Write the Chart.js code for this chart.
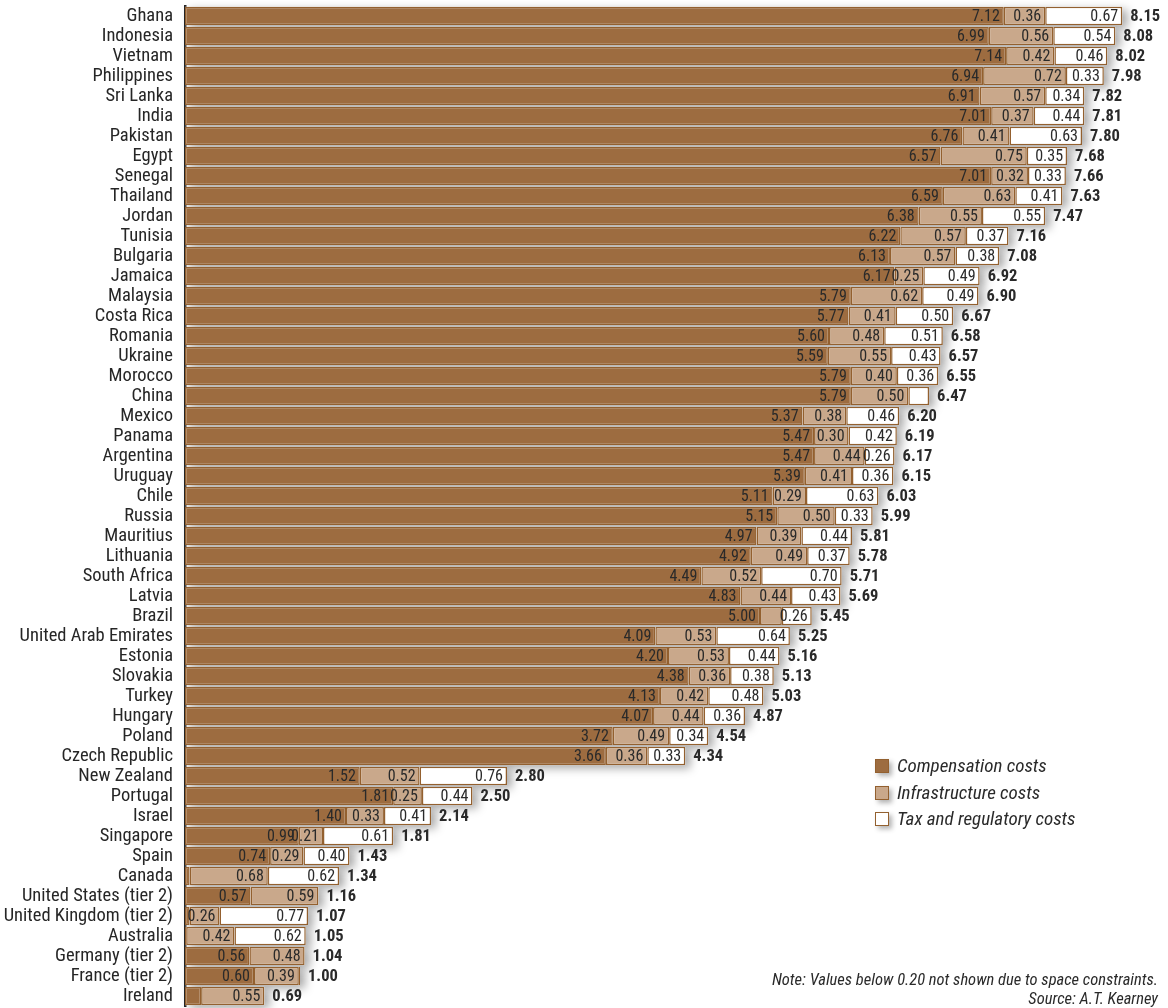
<!DOCTYPE html>
<html>
<head>
<meta charset="utf-8">
<script src="https://cdn.jsdelivr.net/npm/chart.js@4.4.1/dist/chart.umd.min.js"></script>
<style>
  html, body { margin: 0; padding: 0; background: #fff; }
  #wrap { position: relative; width: 1168px; height: 1008px; overflow: hidden; }
  #chart { position: absolute; left: 0; top: 0; }
  #legend { position: absolute; left: 875px; top: 759px; }
  .item { position: relative; height: 26.7px; }
  .sw { position: absolute; left: 0; top: 0; width: 12px; height: 12px; border: 1.6px solid #93602f; box-shadow: 3px 3px 5px rgba(0,0,0,0.3); }
  .lt { position: absolute; left: 22px; top: -5px; white-space: nowrap; font: italic 19px 'Roboto Condensed', sans-serif; color: #2a2a2a; }
  .note { position: absolute; right: 10px; white-space: nowrap; font: italic 16.5px 'Roboto Condensed', sans-serif; color: #2a2a2a; }
</style>
</head>
<body>
<div id="wrap">
  <canvas id="chart" width="1168" height="1008"></canvas>
  <div id="legend"></div>
  <div class="note" style="top:970px;">Note: Values below 0.20 not shown due to space constraints.</div>
  <div class="note" style="top:989px;">Source: A.T. Kearney</div>
</div>
<script>
const categories = ["Ghana","Indonesia","Vietnam","Philippines","Sri Lanka","India","Pakistan","Egypt","Senegal","Thailand",
  "Jordan","Tunisia","Bulgaria","Jamaica","Malaysia","Costa Rica","Romania","Ukraine","Morocco","China",
  "Mexico","Panama","Argentina","Uruguay","Chile","Russia","Mauritius","Lithuania","South Africa","Latvia",
  "Brazil","United Arab Emirates","Estonia","Slovakia","Turkey","Hungary","Poland","Czech Republic","New Zealand","Portugal",
  "Israel","Singapore","Spain","Canada","United States (tier 2)","United Kingdom (tier 2)","Australia","Germany (tier 2)","France (tier 2)","Ireland"];

const compensation = [7.12,6.99,7.14,6.94,6.91,7.01,6.76,6.57,7.01,6.59,
  6.38,6.22,6.13,6.17,5.79,5.77,5.60,5.59,5.79,5.79,
  5.37,5.47,5.47,5.39,5.11,5.15,4.97,4.92,4.49,4.83,
  5.00,4.09,4.20,4.38,4.13,4.07,3.72,3.66,1.52,1.81,
  1.40,0.99,0.74,0.04,0.57,0.04,0.01,0.56,0.60,0.14];

const infrastructure = [0.36,0.56,0.42,0.72,0.57,0.37,0.41,0.75,0.32,0.63,
  0.55,0.57,0.57,0.25,0.62,0.41,0.48,0.55,0.40,0.50,
  0.38,0.30,0.44,0.41,0.29,0.50,0.39,0.49,0.52,0.44,
  0.19,0.53,0.53,0.36,0.42,0.44,0.49,0.36,0.52,0.25,
  0.33,0.21,0.29,0.68,0.59,0.26,0.42,0.48,0.39,0.55];

const taxRegulatory = [0.67,0.54,0.46,0.33,0.34,0.44,0.63,0.35,0.33,0.41,
  0.55,0.37,0.38,0.49,0.49,0.50,0.51,0.43,0.36,0.18,
  0.46,0.42,0.26,0.36,0.63,0.33,0.44,0.37,0.70,0.43,
  0.26,0.64,0.44,0.38,0.48,0.36,0.34,0.33,0.76,0.44,
  0.41,0.61,0.40,0.62,0.00,0.77,0.62,0.00,0.01,0.00];

const totals = [8.15,8.08,8.02,7.98,7.82,7.81,7.80,7.68,7.66,7.63,
  7.47,7.16,7.08,6.92,6.90,6.67,6.58,6.57,6.55,6.47,
  6.20,6.19,6.17,6.15,6.03,5.99,5.81,5.78,5.71,5.69,
  5.45,5.25,5.16,5.13,5.03,4.87,4.54,4.34,2.80,2.50,
  2.14,1.81,1.43,1.34,1.16,1.07,1.05,1.04,1.00,0.69];

const seriesNames = ["Compensation costs", "Infrastructure costs", "Tax and regulatory costs"];
const seriesColors = ["#9d6c40", "#c9a88b", "#ffffff"];
const borderCol = "#93602f";
const labelThreshold = 0.20;

const FONT = "'Roboto Condensed', sans-serif";

const rowShadow = {
  id: 'rowShadow',
  beforeDatasetsDraw(chart) {
    const { ctx } = chart;
    const xs = chart.scales.x;
    const meta = chart.getDatasetMeta(0);
    ctx.save();
    ctx.shadowColor = 'rgba(0,0,0,0.35)';
    ctx.shadowBlur = 10;
    ctx.shadowOffsetX = 5;
    ctx.shadowOffsetY = 3;
    ctx.fillStyle = '#ffffff';
    meta.data.forEach((el, i) => {
      const sum = compensation[i] + infrastructure[i] + taxRegulatory[i];
      const x0 = xs.getPixelForValue(0);
      const x1 = xs.getPixelForValue(sum);
      const h = el.height;
      ctx.fillRect(x0, el.y - h / 2, x1 - x0, h);
    });
    ctx.restore();
  }
};

const valueLabels = {
  id: 'valueLabels',
  afterDatasetsDraw(chart) {
    const { ctx } = chart;
    ctx.save();
    ctx.textBaseline = 'middle';
    ctx.fillStyle = '#2a2a2a';
    ctx.textAlign = 'right';
    ctx.font = "16px " + FONT;
    chart.data.datasets.forEach((ds, di) => {
      const meta = chart.getDatasetMeta(di);
      meta.data.forEach((el, i) => {
        const v = ds.data[i];
        if (v >= labelThreshold) {
          ctx.fillText(v.toFixed(2), el.x - 4, el.y + 1);
        }
      });
    });
    ctx.textAlign = 'left';
    ctx.font = "bold 16.5px " + FONT;
    const last = chart.getDatasetMeta(chart.data.datasets.length - 1);
    last.data.forEach((el, i) => {
      ctx.fillText(totals[i].toFixed(2), el.x + 8, el.y + 1);
    });
    ctx.restore();
  }
};

const datasets = [compensation, infrastructure, taxRegulatory].map((arr, k) => ({
  label: seriesNames[k],
  data: arr,
  backgroundColor: seriesColors[k],
  borderColor: borderCol,
  borderWidth: (c) => (c.raw > 0 ? 1.5 : 0),
  borderSkipped: false,
  barPercentage: 0.92,
  categoryPercentage: 1.0
}));

new Chart(document.getElementById('chart'), {
  type: 'bar',
  data: { labels: categories, datasets },
  options: {
    indexAxis: 'y',
    responsive: false,
    animation: false,
    layout: { padding: { top: 6, bottom: 2, left: 0, right: 5.5 } },
    plugins: { legend: { display: false }, tooltip: { enabled: false } },
    scales: {
      x: { stacked: true, min: 0, max: 8.5, display: false },
      y: {
        stacked: true,
        grid: { display: false, drawTicks: false },
        border: { display: true, color: '#262626', width: 2.5 },
        ticks: { padding: 12, color: '#262626', autoSkip: false, font: { family: FONT, size: 18.5 } },
        afterFit(scale) {
          scale.width = 185;
          scale.paddingTop = 0;
          scale.paddingBottom = 0;
        }
      }
    }
  },
  plugins: [rowShadow, valueLabels]
});

// HTML legend built from the datasets
const leg = document.getElementById('legend');
datasets.forEach((ds) => {
  const it = document.createElement('div');
  it.className = 'item';
  const sw = document.createElement('div');
  sw.className = 'sw';
  sw.style.background = ds.backgroundColor;
  const t = document.createElement('div');
  t.className = 'lt';
  t.textContent = ds.label;
  it.appendChild(sw); it.appendChild(t);
  leg.appendChild(it);
});
</script>
</body>
</html>
